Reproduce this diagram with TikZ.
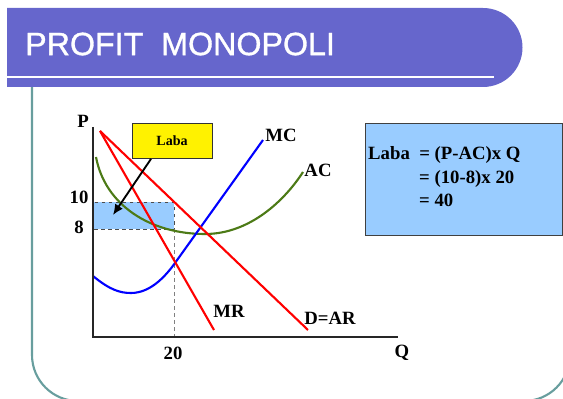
\documentclass[tikz,border=0pt]{standalone}
\usepackage{fontspec}
\setmainfont{Liberation Serif}
\newfontfamily\titlefont[BoldFont={Liberation Sans},BoldFeatures={FakeBold=1}]{Liberation Sans}
\usetikzlibrary{arrows.meta,positioning}
\definecolor{barpurple}{RGB}{102,102,204}
\definecolor{frameteal}{RGB}{104,158,158}
\definecolor{boxblue}{RGB}{153,204,255}
\definecolor{acgreen}{RGB}{76,122,22}

\begin{document}
\begin{tikzpicture}[x=0.03cm,y=-0.03cm,>=Latex,every node/.style={font=\bfseries\fontsize{16}{18}\selectfont,inner sep=0pt},axis/.style={line width=2.2pt,black!85},curve/.style={line width=1.8pt},guide/.style={dashed,gray,line width=0.6pt}]
\useasboundingbox (0,0) rectangle (563,399);
% slide frame and title bar
\draw[frameteal,line width=1.8pt,rounded corners=1.38cm] (32,87)--(32,401)--(570,401)--(570,87);
\fill[barpurple] (7,8)--(483,8) arc (-90:90:39.5)--(7,87)--cycle;
\draw[white,line width=1.2pt] (7,77)--(494,77);
\node[font=\titlefont\bfseries\fontsize{27.5}{30}\selectfont,text=white,anchor=west] (title) at (25,44) {PROFIT\ \ MONOPOLI};
% axes
\coordinate (O) at (93,337);\coordinate (Ptop) at (93,127);\coordinate (Qend) at (398,337);
\node (P) at (83,121) {P};\node (Q) at (402,353) {Q};
\node (p10) at (79,197) {10};\node (p8) at (79,227) {8};\node (q20) at (173,353) {20};
% profit area
\coordinate (R10) at (93,202);\coordinate (R8) at (174,229);\coordinate (Q20) at (174,337);
\draw[fill=boxblue,dashed,draw=black!70,line width=0.7pt] (R10) rectangle (R8);
\draw[guide] (R8)--(Q20);
% cost curves
\draw[curve,acgreen] (96,157) .. controls (105,205) and (150,234) .. (205,234) .. controls (250,234) and (285,200) .. (303,172);
\draw[curve,blue] (93,276) .. controls (110,290) and (120,293) .. (131,293) .. controls (150,293) and (165,277) .. (175,263)--(263,140);
% revenue lines
\coordinate (Dtop) at (100,131);\coordinate (Dend) at (308,330);\coordinate (MRend) at (214,330);
\draw[curve,red] (Dtop)--(Dend);\draw[curve,red] (Dtop)--(MRend);
\draw[axis] (Ptop)--(O)--(Qend);
\node (MC) at (281,135) {MC};\node (AC) at (318,170) {AC};\node (MR) at (229,311) {MR};\node (DAR) at (330,318) {D=AR};
% labels
\node[draw=black!80,fill=yellow,line width=0.7pt,minimum width=2.4cm,minimum height=1.05cm,font=\bfseries\fontsize{12}{14}\selectfont] (laba) at (172,141) {Laba};
\coordinate (arrowtip) at (113,215);
\draw[->,line width=1.6pt,arrows={-Latex[length=9pt,width=8pt]}] ([xshift=-0.63cm]laba.south)--(arrowtip);
\node[draw=black!75,fill=boxblue,line width=0.7pt,minimum width=5.91cm,minimum height=3.36cm,anchor=north west] (infobox) at (365,123) {};
\node[anchor=base west] (info1) at (368,160) {Laba\ \ = (P-AC)x Q};
\node[anchor=base west] (info2) at (419,184) {= (10-8)x 20};
\node[anchor=base west] (info3) at (419,207) {= 40};
\end{tikzpicture}
\end{document}
